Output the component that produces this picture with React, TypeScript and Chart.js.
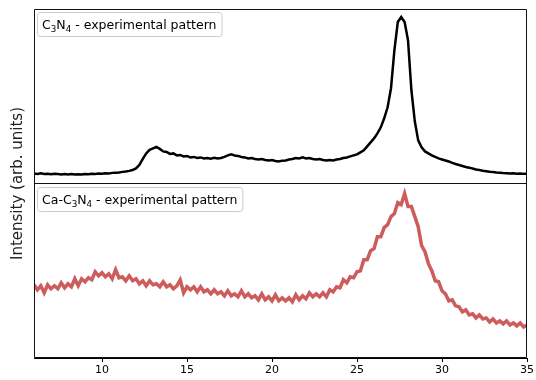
import React, { useEffect, useRef } from "react";
import { Chart, registerables } from "chart.js";

Chart.register(...registerables);

// 2-theta grid: start and step (degrees)
const X_START = 6.0;
const X_STEP = 0.2;
const X_TICKS = [10, 15, 20, 25, 30, 35];

// C3N4 experimental pattern (arb. units)
const C3N4 = [
  10.0, 9.6, 10.1, 9.5, 9.8, 9.2, 9.7, 9.4, 9.0, 9.5,
  9.1, 9.4, 8.9, 9.3, 9.0, 9.4, 9.2, 9.7, 9.4, 9.9,
  9.7, 10.2, 10.0, 10.6, 10.8, 11.0, 11.6, 12.0, 12.6, 13.5,
  15.0, 18.5, 24.5, 30.0, 33.5, 35.0, 36.5, 34.5, 32.0, 31.5,
  29.5, 30.0, 28.0, 28.5, 27.0, 27.5, 26.0, 26.5, 25.5, 26.0,
  25.0, 25.5, 24.8, 25.6, 25.0, 25.5, 26.5, 28.0, 29.0, 28.0,
  27.5, 26.5, 26.0, 25.0, 25.5, 24.5, 24.0, 24.5, 23.5, 23.0,
  23.5, 22.5, 22.0, 22.8, 23.0, 24.0, 24.5, 25.5, 25.0, 26.0,
  25.0, 25.5, 24.5, 24.0, 24.5, 23.5, 23.0, 23.5, 23.0, 24.0,
  24.5, 25.5, 26.0, 27.0, 28.0, 29.0, 31.0, 33.0, 37.0, 41.0,
  45.0, 50.0, 56.0, 65.0, 76.0, 95.0, 133.0, 161.0, 166.0, 161.0,
  143.0, 93.0, 62.0, 43.0, 36.0, 32.0, 30.0, 28.0, 26.5, 25.0,
  24.0, 23.0, 22.0, 20.5, 19.5, 18.5, 17.5, 16.5, 15.8, 15.0,
  14.0, 13.5, 12.8, 12.3, 11.8, 11.5, 11.0, 10.8, 10.5, 10.3,
  10.0, 10.2, 9.8, 9.9, 9.6, 9.7,
];

// Ca-C3N4 experimental pattern (arb. units)
const CA_C3N4 = [
  73, 68, 72, 65, 73, 69, 72, 69, 75, 70,
  74, 71, 79, 72, 79, 76, 80, 78, 86, 82,
  85, 81, 84, 79, 88, 80, 81, 77, 82, 77,
  79, 74, 77, 72, 77, 73, 74, 71, 76, 71,
  73, 69, 72, 78, 65, 71, 68, 71, 66, 71,
  66, 68, 64, 68, 64, 66, 62, 67, 62, 64,
  61, 67, 61, 64, 60, 62, 58, 64, 58, 61,
  57, 63, 57, 60, 57, 60, 56, 63, 58, 62,
  59, 65, 61, 64, 61, 65, 61, 68, 66, 71,
  70, 78, 75, 81, 80, 86, 87, 98, 98, 107,
  109, 121, 121, 130, 133, 141, 144, 155, 153, 164,
  151, 151, 141, 131, 112, 106, 94, 87, 77, 76,
  67, 64, 57, 58, 52, 51, 46, 48, 43, 44,
  40, 43, 39, 40, 36, 39, 35, 37, 34, 37,
  33, 35, 32, 35, 31, 33,
];

const LABEL_TOP = ["C", { sub: "3" }, "N", { sub: "4" }, " - experimental pattern"];
const LABEL_BOTTOM = ["Ca-C", { sub: "3" }, "N", { sub: "4" }, " - experimental pattern"];
const Y_TITLE = "Intensity (arb. units)";

const FONT = "'DejaVu Sans', sans-serif";

function toPoints(arr: number[]) {
  return arr.map((v, i) => ({ x: +(X_START + i * X_STEP).toFixed(2), y: v }));
}

function drawRich(ctx: CanvasRenderingContext2D, parts: any[], x: number, y: number, size: number) {
  let cx = x;
  for (const p of parts) {
    if (typeof p === "string") {
      ctx.font = `${size}px ${FONT}`;
      ctx.fillText(p, cx, y);
      cx += ctx.measureText(p).width;
    } else {
      const s = size * 0.7;
      ctx.font = `${s}px ${FONT}`;
      ctx.fillText(p.sub, cx, y + size * 0.2);
      cx += ctx.measureText(p.sub).width;
    }
  }
  return cx - x;
}

function measureRich(ctx: CanvasRenderingContext2D, parts: any[], size: number) {
  let w = 0;
  for (const p of parts) {
    if (typeof p === "string") {
      ctx.font = `${size}px ${FONT}`;
      w += ctx.measureText(p).width;
    } else {
      ctx.font = `${size * 0.7}px ${FONT}`;
      w += ctx.measureText(p.sub).width;
    }
  }
  return w;
}

const decorPlugin = {
  id: "decor",
  afterDatasetsDraw(chart: any) {
    const ctx = chart.ctx as CanvasRenderingContext2D;
    const area = chart.chartArea;
    const top = chart.scales.yTop;
    const bot = chart.scales.yBot;
    ctx.save();
    ctx.strokeStyle = "#111";
    ctx.lineWidth = 1;
    const L = Math.round(area.left) + 0.5;
    const R = Math.round(area.right) - 0.5;
    const T = Math.round(top.top) + 0.5;
    const M = Math.round(top.bottom) - 0.5;
    const B = Math.round(bot.bottom) - 0.5;
    ctx.beginPath();
    ctx.moveTo(L, T); ctx.lineTo(R, T); ctx.lineTo(R, B); ctx.lineTo(L, B); ctx.closePath();
    ctx.moveTo(L, M); ctx.lineTo(R, M);
    ctx.stroke();
    // legend boxes
    const size = 12.5;
    const boxes = [
      { parts: LABEL_TOP, y: top.top + 3 },
      { parts: LABEL_BOTTOM, y: bot.top + 3.5 },
    ];
    for (const b of boxes) {
      const w = measureRich(ctx, b.parts, size);
      const bx = area.left + 3;
      const bw = w + 10;
      const bh = 24;
      ctx.beginPath();
      ctx.roundRect(bx + 0.5, Math.round(b.y) + 0.5, bw, bh, 3);
      ctx.fillStyle = "rgba(255,255,255,0.8)";
      ctx.fill();
      ctx.strokeStyle = "#cccccc";
      ctx.lineWidth = 1;
      ctx.stroke();
      ctx.fillStyle = "#000";
      ctx.textBaseline = "alphabetic";
      ctx.textAlign = "left";
      drawRich(ctx, b.parts, bx + 5, Math.round(b.y) + 17, size);
    }
    // y title
    ctx.save();
    ctx.translate(18, (area.top + area.bottom) / 2);
    ctx.rotate(-Math.PI / 2);
    ctx.font = `15px ${FONT}`;
    ctx.fillStyle = "#222";
    ctx.textAlign = "center";
    ctx.textBaseline = "middle";
    ctx.fillText(Y_TITLE, 0, 0);
    ctx.restore();
    ctx.restore();
  },
};

export default function App() {
  const ref = useRef<HTMLCanvasElement>(null);
  useEffect(() => {
    document.body.style.margin = "0";
    const chart = new Chart(ref.current!, {
      type: "line",
      data: {
        datasets: [
          {
            data: toPoints(C3N4),
            yAxisID: "yTop",
            borderColor: "#000000",
            borderWidth: 2.5,
            pointRadius: 0,
            tension: 0,
          },
          {
            data: toPoints(CA_C3N4),
            yAxisID: "yBot",
            borderColor: "#cd5c5c",
            borderWidth: 3.5,
            pointRadius: 0,
            tension: 0,
          },
        ],
      },
      options: {
        animation: false,
        responsive: false,
        maintainAspectRatio: false,
        layout: { padding: { left: 34, right: 9, top: 9, bottom: 0 } },
        plugins: { legend: { display: false }, tooltip: { enabled: false } },
        scales: {
          x: {
            type: "linear",
            min: 6.0,
            max: 35,
            afterBuildTicks: (s: any) => {
              s.ticks = X_TICKS.map((v) => ({ value: v }));
            },
            afterFit: (s: any) => {
              s.height = 22;
            },
            grid: {
              display: true,
              drawOnChartArea: false,
              drawTicks: true,
              tickLength: 4,
              color: "#000",
            },
            border: { display: true, color: "#000" },
            ticks: {
              color: "#000",
              font: { family: FONT, size: 11 },
              padding: 2,
              maxRotation: 0,
            },
          },
          yBot: {
            type: "linear",
            position: "left",
            stack: "panels",
            stackWeight: 1,
            min: 0,
            max: 174,
            display: false,
          },
          yTop: {
            type: "linear",
            position: "left",
            stack: "panels",
            stackWeight: 1,
            min: 0,
            max: 174,
            display: false,
          },
        },
      },
      plugins: [decorPlugin],
    });
    return () => chart.destroy();
  }, []);
  return (
    <div style={{ position: "fixed", left: 0, top: 0, width: 536, height: 380 }}>
      <canvas ref={ref} width={536} height={380} />
    </div>
  );
}
